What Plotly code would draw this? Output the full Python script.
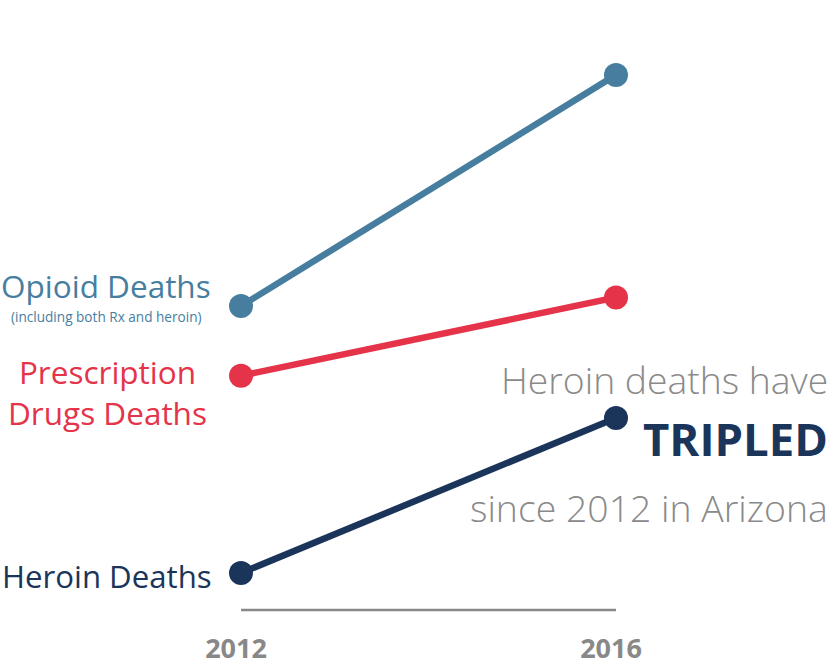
import plotly.graph_objects as go

years = [2012, 2016]
year_labels = ["2012", "2016"]
opioid = [489, 817]
prescription = [390, 501]
heroin = [110, 330]

C_OPI = "#477ea0"
C_RX = "#e5334a"
C_HER = "#1b355a"
GRAY = "#888888"
FONT = "Open Sans"

W, H = 833, 666

fig = go.Figure()
for vals, col in [(opioid, C_OPI), (prescription, C_RX), (heroin, C_HER)]:
    fig.add_trace(go.Scatter(
        x=years, y=vals, mode="lines+markers",
        line=dict(color=col, width=6.5),
        marker=dict(color=col, size=24),
        cliponaxis=False, hoverinfo="skip", showlegend=False))

# baseline
fig.add_shape(type="line", xref="x", yref="paper", x0=2012, x1=2016, y0=0, y1=0,
              line=dict(color=GRAY, width=2.5))

# plot area in pixels
L_px, R_px, T_px, B_px = 241, 616, 8, 610
L, R, T, B = L_px, W - R_px, T_px, H - B_px
pw, ph = W - L - R, H - T - B


def px(x):
    return (x - L) / pw


def py(y):
    return (H - B - y) / ph


def ann(text, x, y, size, color, xanchor="right", weight=400, align="right"):
    fig.add_annotation(text=text, xref="paper", yref="paper", x=px(x), y=py(y),
                       xanchor=xanchor, yanchor="middle", showarrow=False, align=align,
                       font=dict(family=FONT, size=size, color=color, weight=weight))


ann("Opioid Deaths", 213, 285, 31.5, C_OPI)
ann("(including both Rx and heroin)", 204, 316, 13.6, C_OPI)
ann("Prescription<br>Drugs Deaths", 107, 392, 31.5, C_RX, xanchor="center", align="center")
ann("Heroin Deaths", 214, 576, 31.2, C_HER)
ann("Heroin deaths have", 830, 379, 37.3, "#8a8a8a", weight=300)
ann("TRIPLED", 830, 438, 45.5, C_HER, weight=700)
ann("since 2012 in Arizona", 830, 507, 37.4, "#8a8a8a", weight=300)

# value scale: 1 px = 110/77.5 units, value 0 at pixel 650.5
k = 110 / 77.5
ymin = (650.5 - B_px) * k
ymax = (650.5 - T_px) * k

fig.update_layout(
    width=W, height=H, margin=dict(l=L, r=R, t=T, b=B, autoexpand=False),
    paper_bgcolor="white", plot_bgcolor="white",
    xaxis=dict(range=[2012, 2016], tickvals=years, ticktext=year_labels,
               showgrid=False, zeroline=False, showline=False, automargin=False,
               ticks="outside", ticklen=15, tickcolor="rgba(0,0,0,0)",
               ticklabelshift=-5,
               tickfont=dict(family=FONT, size=27, color=GRAY, weight=700)),
    yaxis=dict(range=[ymin, ymax], visible=False, automargin=False),
)

fig.write_html("out.html", config={"displayModeBar": False},
               post_script="document.body.style.margin='0px';document.body.style.overflow='hidden';")
